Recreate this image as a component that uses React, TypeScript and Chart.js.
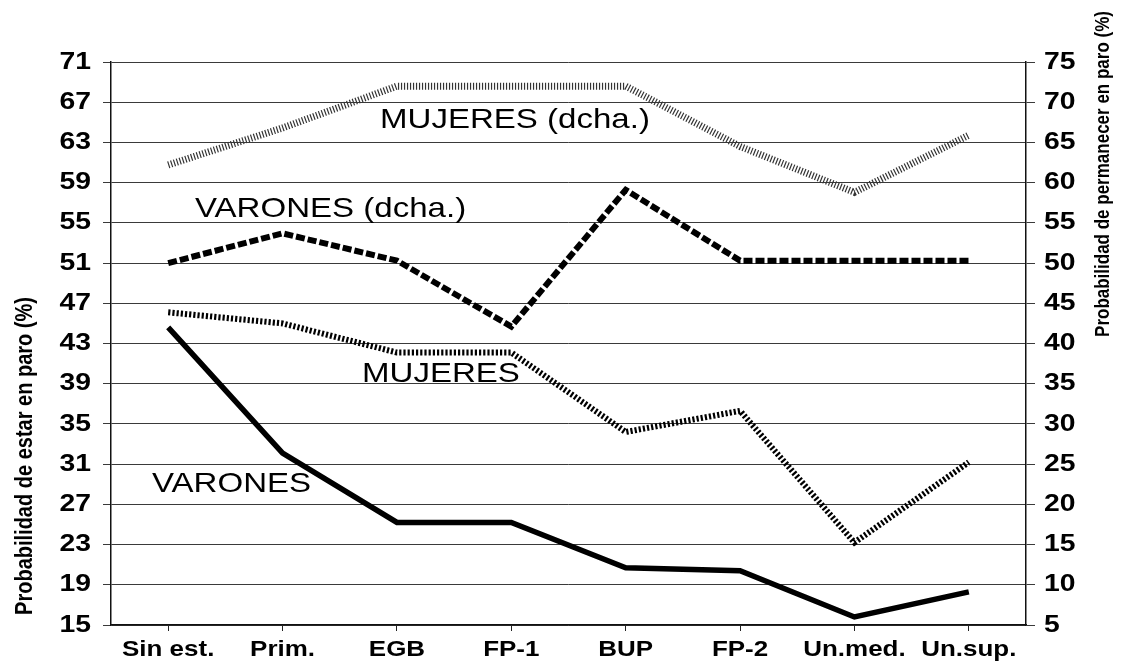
import { useEffect, useRef } from 'react';
import { Chart, registerables } from 'chart.js';

Chart.register(...registerables);

const categories = ['Sin est.', 'Prim.', 'EGB', 'FP-1', 'BUP', 'FP-2', 'Un.med.', 'Un.sup.'];
// left axis series
const varones = [44.6, 32.1, 25.2, 25.2, 20.7, 20.4, 15.8, 18.3];
const mujeres = [46.1, 45.0, 42.1, 42.1, 34.2, 36.3, 23.2, 31.2];
// right axis series
const varonesDcha = [50.0, 53.7, 50.3, 42.1, 59.1, 50.3, 50.3, 50.3];
const mujeresDcha = [62.2, 66.8, 72.0, 72.0, 72.0, 64.5, 58.8, 65.9];

const leftTitle = 'Probabilidad de estar en paro (%)';
const rightTitle = 'Probabilidad de permanecer en paro (%)';
const seriesLabels = ['MUJERES (dcha.)', 'VARONES (dcha.)', 'MUJERES', 'VARONES'];

const FONT = '"Liberation Sans", Arial, Helvetica, sans-serif';
const SX = 1.18;

function drawText(
  ctx: CanvasRenderingContext2D,
  text: string,
  x: number,
  y: number,
  font: string,
  align: CanvasTextAlign,
  baseline: CanvasTextBaseline,
) {
  ctx.save();
  ctx.translate(x, y);
  ctx.scale(SX, 1);
  ctx.font = font;
  ctx.textAlign = align;
  ctx.textBaseline = baseline;
  ctx.fillStyle = '#000';
  ctx.fillText(text, 0, 0);
  ctx.restore();
}

function drawRotated(ctx: CanvasRenderingContext2D, text: string, x: number, y: number, font: string) {
  ctx.save();
  ctx.translate(x, y);
  ctx.rotate(-Math.PI / 2);
  ctx.scale(1, SX);
  ctx.font = font;
  ctx.textAlign = 'center';
  ctx.textBaseline = 'middle';
  ctx.fillStyle = '#000';
  ctx.fillText(text, 0, 0);
  ctx.restore();
}

const textPlugin = {
  id: 'textPlugin',
  afterDraw(chart: any) {
    const ctx: CanvasRenderingContext2D = chart.ctx;
    const xs = chart.scales.x;
    const yl = chart.scales.y;
    const yr = chart.scales.y2;

    yl.ticks.forEach((t: any, i: number) => {
      drawText(ctx, String(t.value), yl.right - 20, yl.getPixelForTick(i), `bold 24px ${FONT}`, 'right', 'middle');
    });
    yr.ticks.forEach((t: any, i: number) => {
      drawText(ctx, String(t.value), yr.left + 18, yr.getPixelForTick(i), `bold 24px ${FONT}`, 'left', 'middle');
    });
    categories.forEach((c, i) => {
      drawText(ctx, c, xs.getPixelForTick(i), xs.top + 31, `bold 22px ${FONT}`, 'center', 'alphabetic');
    });

    drawRotated(ctx, leftTitle, 25, 456, `bold 20px ${FONT}`);
    drawRotated(ctx, rightTitle, 1103, 174, `bold 17px ${FONT}`);

    const f = `28px ${FONT}`;
    drawText(ctx, seriesLabels[0], 380, 128, f, 'left', 'alphabetic');
    drawText(ctx, seriesLabels[1], 195, 217, f, 'left', 'alphabetic');
    drawText(ctx, seriesLabels[2], 362, 382, f, 'left', 'alphabetic');
    drawText(ctx, seriesLabels[3], 152, 492, f, 'left', 'alphabetic');
  },
};

export default function App() {
  const ref = useRef<HTMLCanvasElement>(null);

  useEffect(() => {
    const canvas = ref.current;
    if (!canvas) return;
    const chart = new Chart(canvas, {
      type: 'line',
      data: {
        labels: categories,
        datasets: [
          {
            label: 'VARONES',
            data: varones,
            yAxisID: 'y',
            borderColor: '#000',
            borderWidth: 5.5,
            borderCapStyle: 'butt',
            borderJoinStyle: 'miter',
          },
          {
            label: 'MUJERES',
            data: mujeres,
            yAxisID: 'y',
            borderColor: '#000',
            borderWidth: 6,
            borderDash: [2.2, 2],
            borderCapStyle: 'butt',
            borderJoinStyle: 'miter',
          },
          {
            label: 'VARONES (dcha.)',
            data: varonesDcha,
            yAxisID: 'y2',
            borderColor: '#000',
            borderWidth: 6,
            borderDash: [9, 3],
            borderCapStyle: 'butt',
            borderJoinStyle: 'miter',
          },
          {
            label: 'MUJERES (dcha.)',
            data: mujeresDcha,
            yAxisID: 'y2',
            borderColor: '#333',
            borderWidth: 7,
            borderDash: [1.2, 1.8],
            borderCapStyle: 'butt',
            borderJoinStyle: 'miter',
          },
        ],
      },
      options: {
        responsive: false,
        animation: false,
        devicePixelRatio: 1,
        layout: { padding: { top: 62, left: 0, right: 0, bottom: 0 } },
        plugins: {
          legend: { display: false },
          tooltip: { enabled: false },
          title: { display: false },
        },
        elements: {
          point: { radius: 0, hoverRadius: 0 },
          line: { tension: 0 },
        },
        scales: {
          x: {
            type: 'category',
            offset: true,
            grid: {
              display: true,
              drawOnChartArea: false,
              offset: false,
              tickLength: 6,
              color: '#222',
            },
            border: { display: true, color: '#111', width: 1.5 },
            ticks: { display: false },
            afterFit: (s: any) => {
              s.height = 39;
            },
          },
          y: {
            position: 'left',
            min: 15,
            max: 71,
            ticks: { display: false, stepSize: 4 },
            grid: { color: '#3a3a3a', tickLength: 8, lineWidth: 1 },
            border: { display: true, color: '#111', width: 1.5 },
            afterFit: (s: any) => {
              s.width = 111;
            },
          },
          y2: {
            position: 'right',
            min: 5,
            max: 75,
            ticks: { display: false, stepSize: 5 },
            grid: { drawOnChartArea: false, tickLength: 9, color: '#3a3a3a' },
            border: { display: true, color: '#111', width: 1.5 },
            afterFit: (s: any) => {
              s.width = 98;
            },
          },
        },
      },
      plugins: [textPlugin],
    } as any);
    return () => chart.destroy();
  }, []);

  return (
    <div style={{ position: 'absolute', left: 0, top: 0, width: 1124, height: 664, background: '#fff' }}>
      <canvas ref={ref} width={1124} height={664} style={{ display: 'block' }} />
    </div>
  );
}
